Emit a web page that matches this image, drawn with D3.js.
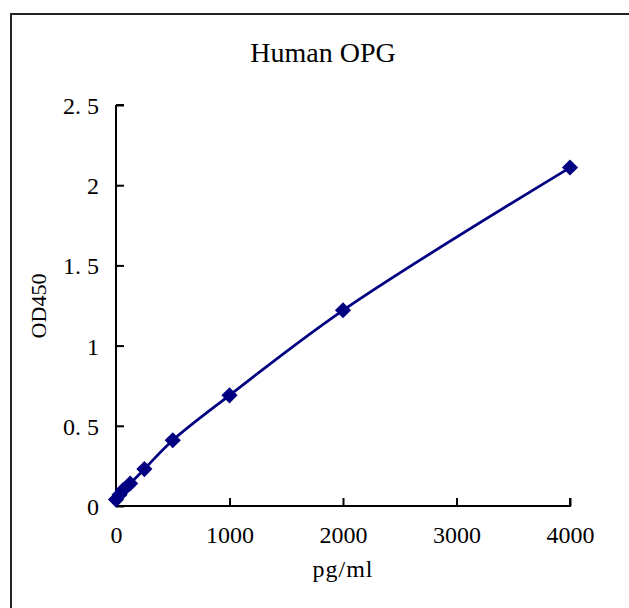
<!DOCTYPE html>
<html lang="en">
<head>
<meta charset="utf-8">
<title>Human OPG</title>
<script src="https://cdn.jsdelivr.net/npm/d3@7"></script>
<style>
  body { margin: 0; background: #fff; }
  text { font-family: "Liberation Serif", "DejaVu Serif", serif; fill: #000; }
</style>
</head>
<body>
<script>
// standard curve readings
var conc = [0, 31.25, 62.5, 125, 250, 500, 1000, 2000, 4000];
var od   = [0.04, 0.07, 0.10, 0.14, 0.23, 0.41, 0.69, 1.22, 2.11];
var xTicks = [0, 1000, 2000, 3000, 4000];
var yTicks = [0, 0.5, 1, 1.5, 2, 2.5];

var width = 629, height = 608;
var svg = d3.select("body").append("svg")
  .attr("width", width).attr("height", height);

// outer frame (runs off the right and bottom edges)
svg.append("rect")
  .attr("x", 11).attr("y", 14)
  .attr("width", 700).attr("height", 700)
  .attr("fill", "none").attr("stroke", "#222").attr("stroke-width", 2);

var x = d3.scaleLinear().domain([0, 4000]).range([116, 570]);
var y = d3.scaleLinear().domain([0, 2.5]).range([506, 105]);

// y axis, ticks pointing inward
var gy = svg.append("g").attr("transform", "translate(116,0)")
  .call(d3.axisRight(y).tickValues(yTicks).tickSize(8).tickFormat(function(d){ return ""; }));
gy.select(".domain").attr("d", "M0," + y(0) + "V" + y(2.5) + "M0," + y(2.5) + "H8");
gy.selectAll("line, path").attr("stroke", "#000").attr("stroke-width", 2);
gy.selectAll(".tick").append("text")
  .attr("x", -17).attr("dy", "0.35em")
  .attr("text-anchor", "end")
  .style("font-size", "24px")
  .text(function(d){ return d === 0 ? "0" : String(d).replace(".", ". "); });

// x axis, ticks pointing up
var gx = svg.append("g").attr("transform", "translate(0,506)")
  .call(d3.axisTop(x).tickValues(xTicks).tickSize(8).tickFormat(function(d){ return ""; }));
gx.select(".domain").attr("d", "M" + x(0) + ",0H" + x(4000) + "V-8");
gx.selectAll("line, path").attr("stroke", "#000").attr("stroke-width", 2);
gx.selectAll(".tick").append("text")
  .attr("y", 37)
  .attr("text-anchor", "middle")
  .style("font-size", "24px")
  .text(function(d){ return d; });

var pts = conc.map(function(c, i){ return [c, od[i]]; });

svg.append("path")
  .datum(pts)
  .attr("fill", "none")
  .attr("stroke", "#000080")
  .attr("stroke-width", 2.75)
  .attr("d", d3.line()
    .x(function(d){ return x(d[0]); })
    .y(function(d){ return y(d[1]); })
    .curve(d3.curveCatmullRom.alpha(0.5)));

// square markers turned 45 degrees
svg.append("g").selectAll("path")
  .data(pts)
  .enter().append("path")
  .attr("transform", function(d){ return "translate(" + x(d[0]) + "," + y(d[1]) + ") rotate(45)"; })
  .attr("d", d3.symbol().type(d3.symbolSquare).size(130))
  .attr("fill", "#000080");

svg.append("text")
  .attr("x", 323).attr("y", 62)
  .attr("text-anchor", "middle")
  .style("font-size", "28px")
  .text("Human OPG");

svg.append("text")
  .attr("x", 343).attr("y", 577)
  .attr("text-anchor", "middle")
  .style("font-size", "24px")
  .style("letter-spacing", "1px")
  .text("pg/ml");

svg.append("text")
  .attr("transform", "translate(46,306) rotate(-90)")
  .attr("text-anchor", "middle")
  .style("font-size", "22px")
  .text("OD450");
</script>
</body>
</html>
